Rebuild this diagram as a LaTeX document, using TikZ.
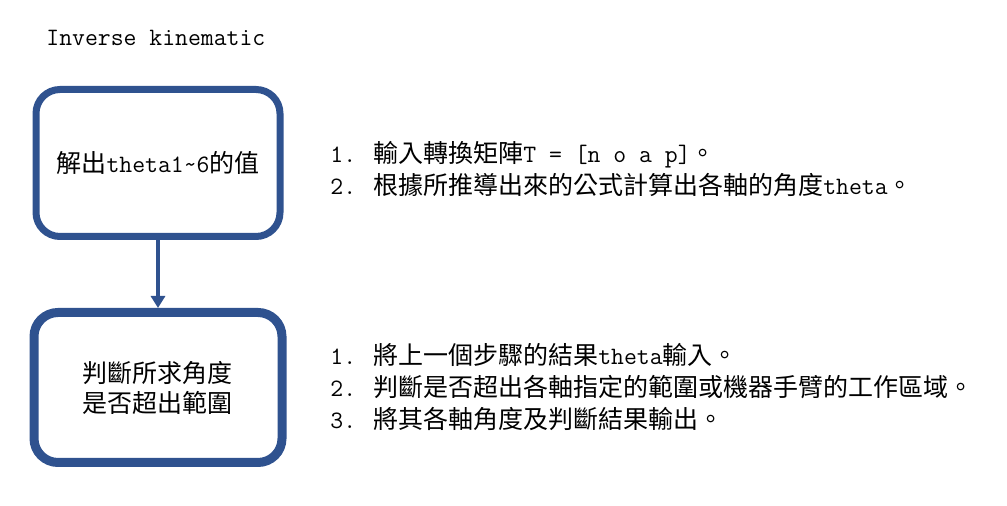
\documentclass[tikz,border=0pt]{standalone}
\usepackage{fontspec}
\newfontfamily\cjkfont{Noto Sans CJK TC}
\newcommand{\zhtw}[1]{{\cjkfont #1}}
\usetikzlibrary{arrows.meta}
\definecolor{boxblue}{HTML}{2F528F}
\begin{document}
\begin{tikzpicture}[x=0.5pt,y=-0.5pt,
  every node/.style={font=\ttfamily\fontsize{12.5}{16}\selectfont,inner sep=0pt},
  stepbox/.style={draw=boxblue,rounded corners=12pt,align=center},
  note/.style={anchor=west,align=left}]
\useasboundingbox (0,0) rectangle (1007,506);
\node[anchor=west] (title) at (46,38) {Inverse kinematic};
% flow boxes
\node[stepbox,line width=3.5pt,minimum width=122pt,minimum height=73.5pt] (solve) at (158,163)
  {\zhtw{解出}theta1\textasciitilde 6\zhtw{的值}};
\node[stepbox,line width=4.5pt,minimum width=124pt,minimum height=75pt,
  font=\ttfamily\fontsize{12.5}{15}\selectfont] (check) at (158,387.5)
  {\zhtw{判斷所求角度}\\\zhtw{是否超出範圍}};
\draw[boxblue,line width=2pt,-{Triangle[width=7pt,length=6pt]}] (solve) -- (check);
% descriptions
\node[note] (solvenote) at (330,168.5)
  {1. \zhtw{輸入轉換矩陣}T = [n o a p]\zhtw{。}\\
   2. \zhtw{根據所推導出來的公式計算出各軸的角度}theta\zhtw{。}};
\node[note] (checknote) at (330,387)
  {1. \zhtw{將上一個步驟的結果}theta\zhtw{輸入。}\\
   2. \zhtw{判斷是否超出各軸指定的範圍或機器手臂的工作區域。}\\
   3. \zhtw{將其各軸角度及判斷結果輸出。}};
\end{tikzpicture}
\end{document}
